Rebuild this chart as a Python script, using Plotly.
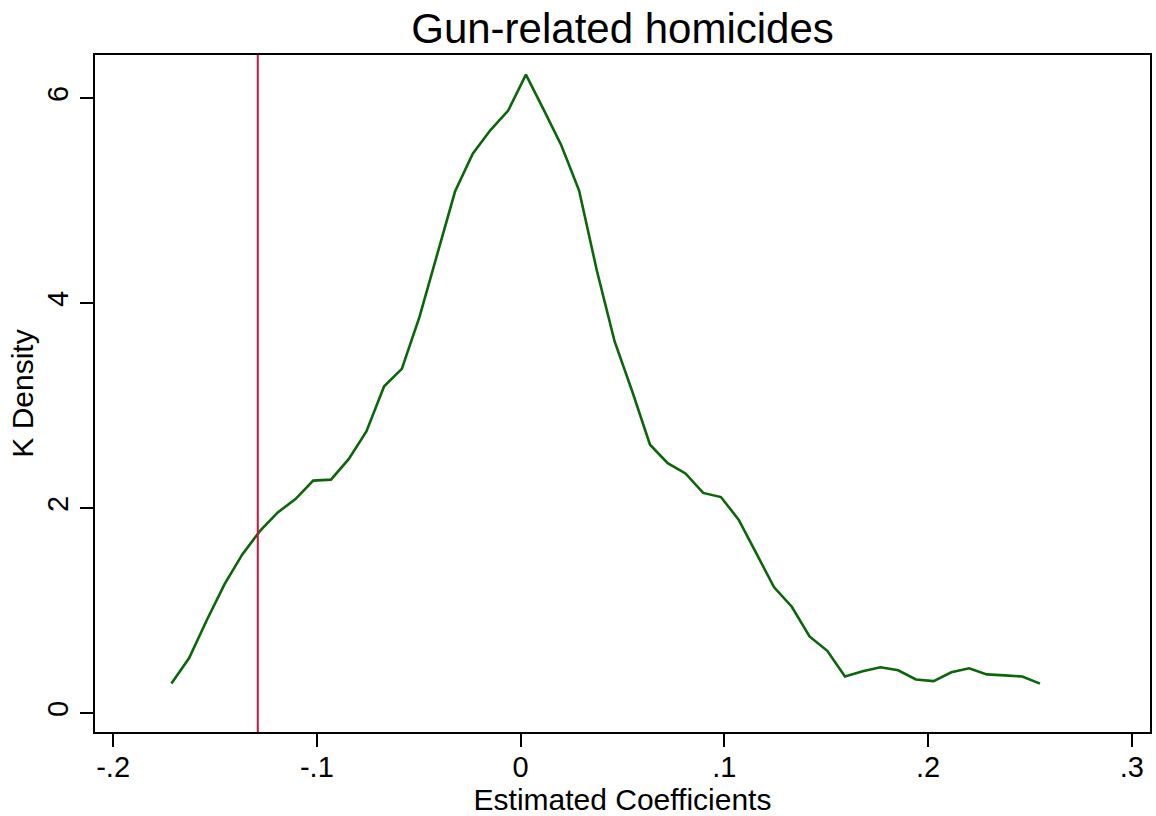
import plotly.graph_objects as go

# Kernel density estimate of estimated coefficients
coef_x = [-0.1714, -0.1627, -0.1540, -0.1453, -0.1366, -0.1279, -0.1192, -0.1105, -0.1018, -0.0931,
          -0.0844, -0.0757, -0.0670, -0.0583, -0.0496, -0.0409, -0.0322, -0.0235, -0.0148, -0.0061,
          0.0026, 0.0113, 0.0200, 0.0287, 0.0374, 0.0461, 0.0548, 0.0635, 0.0722, 0.0809,
          0.0896, 0.0983, 0.1070, 0.1157, 0.1244, 0.1331, 0.1418, 0.1505, 0.1592, 0.1679,
          0.1766, 0.1853, 0.1940, 0.2027, 0.2114, 0.2201, 0.2288, 0.2375, 0.2462, 0.2549]
density = [0.29, 0.54, 0.91, 1.26, 1.55, 1.78, 1.96, 2.09, 2.27, 2.28,
           2.48, 2.75, 3.19, 3.36, 3.87, 4.49, 5.09, 5.46, 5.69, 5.88,
           6.23, 5.89, 5.54, 5.10, 4.32, 3.63, 3.14, 2.62, 2.44, 2.34,
           2.15, 2.11, 1.89, 1.56, 1.23, 1.04, 0.75, 0.61, 0.36, 0.41,
           0.45, 0.42, 0.33, 0.315, 0.40, 0.44, 0.38, 0.37, 0.36, 0.29]

ref_line_x = -0.129

x_tickvals = [-0.2, -0.1, 0, 0.1, 0.2, 0.3]
x_ticktext = ["-.2", "-.1", "0", ".1", ".2", ".3"]
y_tickvals = [0, 2, 4, 6]
y_ticktext = ["0", "2", "4", "6"]

title_text = "Gun-related homicides"
x_title = "Estimated Coefficients"
y_title = "K Density"

FONT = "Arial, Liberation Sans, sans-serif"

fig = go.Figure()
fig.add_trace(go.Scatter(x=coef_x, y=density, mode="lines",
                         line=dict(color="#0B650B", width=2.6), showlegend=False,
                         hoverinfo="skip"))
fig.add_vline(x=ref_line_x, line=dict(color="#D0103F", width=2), layer="above")

fig.update_layout(
    width=1156, height=816,
    margin=dict(l=95, r=4, t=55, b=84),
    paper_bgcolor="white", plot_bgcolor="white",
    font=dict(family=FONT, color="black"),
    title=dict(text=title_text, x=0.5, xanchor="center", xref="paper",
               y=1 - 28 / 816, yanchor="middle", font=dict(size=42, family=FONT, color="black")),
    xaxis=dict(range=[-0.2089, 0.3089], tickvals=x_tickvals, ticktext=x_ticktext,
               showline=True, mirror=True, linecolor="black", linewidth=2,
               ticks="outside", ticklen=13, tickwidth=2, tickcolor="black",
               showgrid=False, zeroline=False, ticklabelstandoff=-5,
               tickfont=dict(size=29, family=FONT, color="black"),
               title=dict(text=x_title, font=dict(size=30, family=FONT, color="black"), standoff=2)),
    yaxis=dict(range=[-0.182, 6.422], tickvals=y_tickvals, ticktext=y_ticktext,
               showline=True, mirror=True, linecolor="black", linewidth=2,
               ticks="outside", ticklen=13, tickwidth=2, tickcolor="black",
               showgrid=False, zeroline=False, tickangle=-90, ticklabelstandoff=0,
               tickfont=dict(size=29, family=FONT, color="black"),
               title=dict(text=y_title, font=dict(size=30, family=FONT, color="black"), standoff=0)),
)

fig.write_html("out.html", config={"displayModeBar": False},
               post_script="document.body.style.margin='0';document.body.style.overflow='hidden';")
